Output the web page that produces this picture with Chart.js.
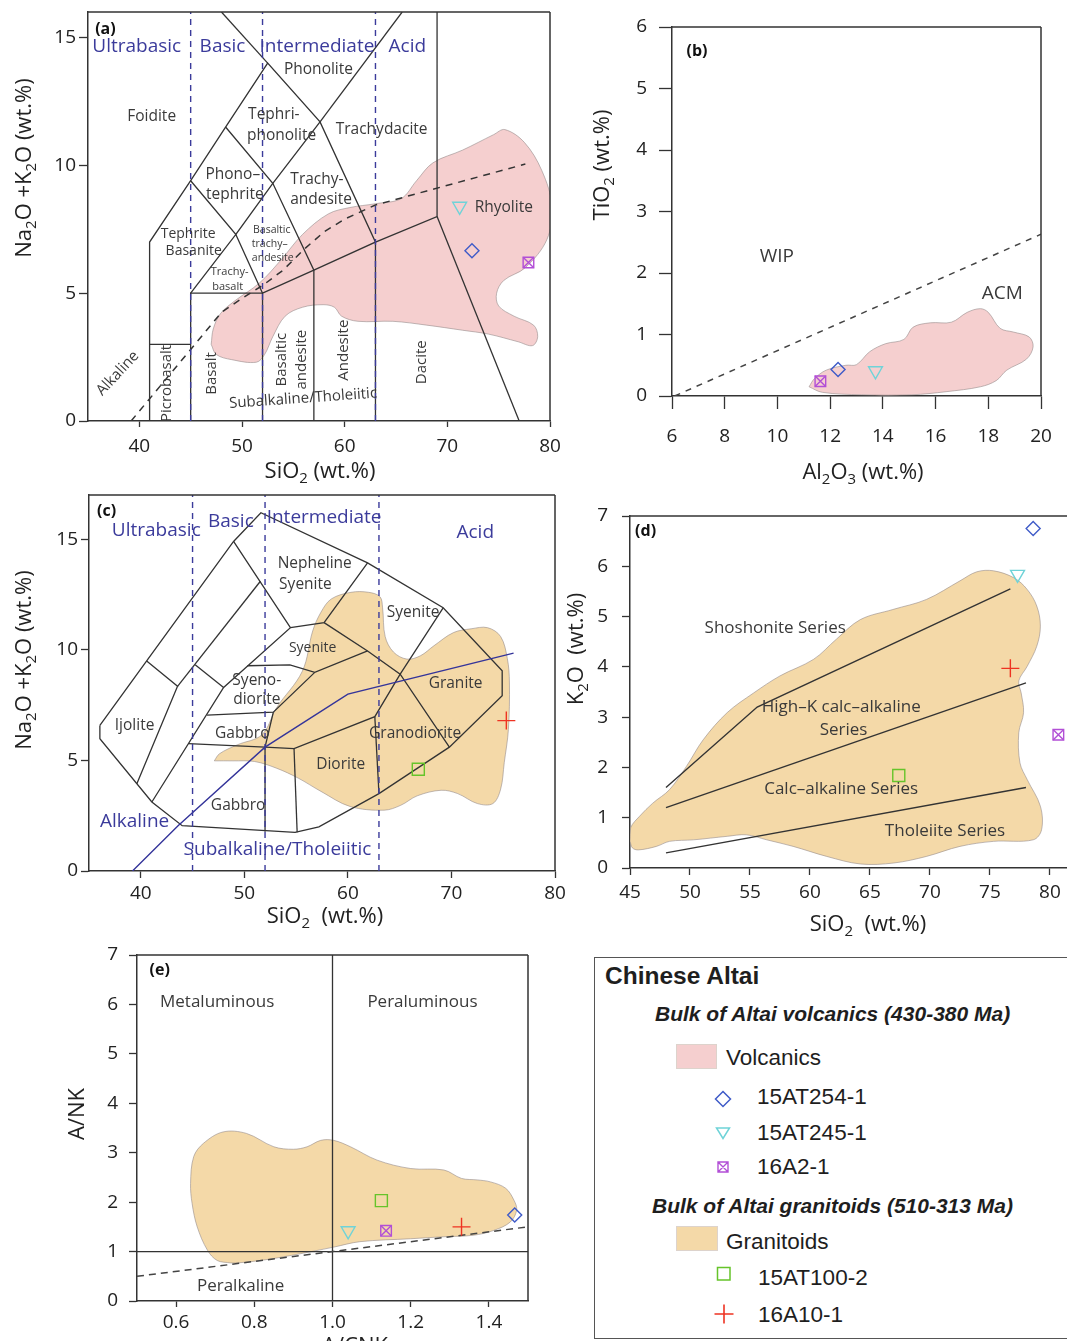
<!DOCTYPE html>
<html>
<head>
<meta charset="utf-8">
<title>Chinese Altai - geochemical diagrams</title>
<script src="https://cdn.jsdelivr.net/npm/chart.js@4.4.1/dist/chart.umd.min.js"></script>
<style>
  html, body { margin: 0; padding: 0; background: #fff; }
  body { position: relative; width: 1067px; height: 1341px; overflow: hidden; }
  canvas { position: absolute; }
  #legend { position: absolute; left: 594px; top: 957px; width: 490px; height: 382px; border: 1.5px solid #555; box-sizing: border-box; font-family: 'Liberation Sans', Arial, sans-serif; color: #1e1e1e; }
  #legend .t { position: absolute; white-space: nowrap; line-height: 1; transform: translateY(-50%); }
  #legend .h { font-weight: bold; font-style: italic; font-size: 21px; }
  #legend .e { font-size: 22.5px; }
  #legend .sw { position: absolute; width: 41px; height: 25px; border: 1px solid #ddd3cc; box-sizing: border-box; }
  #legend svg { position: absolute; }
</style>
</head>
<body>
<canvas id="chartA"></canvas>
<canvas id="chartB"></canvas>
<canvas id="chartC"></canvas>
<canvas id="chartD"></canvas>
<canvas id="chartE"></canvas>

<div id="legend">
  <div class="t" style="left:10px;top:18px;font-weight:bold;font-size:24.5px">Chinese Altai</div>
  <div class="t h" style="left:60px;top:55px">Bulk of Altai volcanics (430-380 Ma)</div>
  <div class="sw" style="left:81px;top:86px;background:#f5cfcf"></div>
  <div class="t e" style="left:131px;top:100px">Volcanics</div>
  <svg style="left:118px;top:131px" width="20" height="20"><path d="M10 2.5 L17.5 10 L10 17.5 L2.5 10Z" fill="none" stroke="#3f5bc8" stroke-width="1.5"/></svg>
  <div class="t e" style="left:162px;top:139px">15AT254-1</div>
  <svg style="left:118px;top:165px" width="20" height="20"><path d="M3.5 5 L16.5 5 L10 15.5Z" fill="none" stroke="#6fd3d8" stroke-width="1.5"/></svg>
  <div class="t e" style="left:162px;top:175px">15AT245-1</div>
  <svg style="left:118px;top:199px" width="20" height="20"><path d="M5 5 H15 V15 H5Z M5 5 L15 15 M15 5 L5 15" fill="none" stroke="#b24fd6" stroke-width="1.4"/></svg>
  <div class="t e" style="left:162px;top:209px">16A2-1</div>
  <div class="t h" style="left:57px;top:247px">Bulk of Altai granitoids (510-313 Ma)</div>
  <div class="sw" style="left:81px;top:268px;width:42px;background:#f4d9a8"></div>
  <div class="t e" style="left:131px;top:284px">Granitoids</div>
  <svg style="left:119px;top:306px" width="20" height="20"><path d="M3.5 3.5 H16 V16 H3.5Z" fill="none" stroke="#66c42a" stroke-width="1.5"/></svg>
  <div class="t e" style="left:163px;top:320px">15AT100-2</div>
  <svg style="left:118px;top:345px" width="22" height="22"><path d="M1.5 11 H20.5 M11 1.5 V20.5" fill="none" stroke="#ee3322" stroke-width="1.6"/></svg>
  <div class="t e" style="left:163px;top:357px">16A10-1</div>
</div>

<script>
// Polices et couleurs
const FONT = "'Open Sans', 'Noto Sans', sans-serif";
const INK = '#333333';
const BLUE = '#3b3b9b';
const PINK = '#f5cfcf';
const TAN = '#f4d9a8';

// ---------- Données ----------
// Échantillons
const volcNames = ['15AT254-1', '15AT245-1', '16A2-1'];
const graniteNames = ['15AT100-2', '16A10-1'];
const allNames = volcNames.concat(graniteNames);

// (a) TAS volcaniques
const aSiO2 = [72.4, 71.2, 77.9];
const aAlk = [6.66, 8.4, 6.2];
// (b) TiO2 - Al2O3
const bAl2O3 = [12.3, 13.72, 11.63];
const bTiO2 = [0.43, 0.41, 0.24];
// (c) TAS plutonique
const cSiO2 = [66.8, 75.3];
const cAlk = [4.6, 6.8];
// (d) K2O - SiO2
const dSiO2 = [78.6, 77.3, 80.7, 67.4, 76.7];
const dK2O = [6.75, 5.84, 2.65, 1.84, 3.97];
// (e) A/NK - A/CNK
const eACNK = [1.466, 1.04, 1.137, 1.125, 1.33];
const eANK = [1.74, 1.42, 1.42, 2.03, 1.5];

// Graduations
const tasTicksX = [40, 50, 60, 70, 80];
const tasTicksY = [0, 5, 10, 15];
const bTicksX = [6, 8, 10, 12, 14, 16, 18, 20];
const bTicksY = [0, 1, 2, 3, 4, 5, 6];
const dTicksX = [45, 50, 55, 60, 65, 70, 75, 80];
const dTicksY = [0, 1, 2, 3, 4, 5, 6, 7];
const eTicksX = [0.6, 0.8, 1.0, 1.2, 1.4];
const eTicksY = [0, 1, 2, 3, 4, 5, 6, 7];

// Champs (enveloppes)
const volcFieldA = [[47.0,3.0],[47.2,3.6],[47.9,4.2],[49.3,4.7],[51.7,5.4],[53.8,6.3],[55.9,7.3],[58.4,8.1],[60.5,8.35],[63.0,8.5],[65.5,8.7],[67.0,9.4],[68.6,10.1],[71.5,10.6],[74.5,11.2],[75.6,11.4],[77.5,10.9],[79.2,9.8],[80.2,8.4],[79.7,7.1],[77.6,6.0],[75.5,5.5],[74.8,5.0],[75.0,4.5],[76.5,4.1],[78.4,3.75],[78.8,3.3],[78.3,2.95],[76.9,3.1],[74.0,3.4],[71.5,3.55],[68.0,3.75],[64.7,3.9],[61.3,3.9],[59.7,4.1],[59.0,4.45],[57.9,4.55],[55.9,4.45],[54.2,4.1],[53.0,3.3],[52.2,2.6],[51.4,2.3],[49.0,2.4],[47.5,2.6],[47.0,3.0]];
const volcFieldB = [[11.2,0.15],[11.4,0.28],[11.85,0.42],[12.6,0.5],[13.0,0.51],[13.5,0.72],[14.1,0.85],[14.8,0.92],[15.15,1.12],[15.8,1.19],[16.6,1.2],[17.2,1.36],[17.7,1.42],[18.0,1.36],[18.45,1.1],[18.95,1.04],[19.55,0.96],[19.7,0.8],[19.45,0.6],[18.7,0.42],[18.3,0.25],[17.7,0.15],[16.4,0.07],[15.1,0.02],[13.2,0.02],[11.7,0.06],[11.2,0.15]];
const graniteFieldC = [[47.1,4.98],[47.6,5.3],[49.3,5.7],[51.7,6.16],[53.1,7.37],[55.6,9.03],[56.6,10.85],[57.4,11.7],[58.4,12.3],[60.3,12.6],[62.0,12.6],[63.1,12.4],[63.35,11.9],[63.6,10.6],[64.4,9.9],[65.7,9.58],[67.0,9.73],[68.3,10.18],[70.2,10.78],[71.9,10.95],[73.5,11.0],[74.75,10.6],[75.4,9.6],[75.6,8.5],[75.5,6.4],[75.1,4.9],[74.75,3.7],[74.0,3.05],[72.5,3.05],[70.6,3.5],[69.0,3.65],[66.7,3.4],[65.1,2.97],[63.5,2.75],[60.2,2.92],[57.4,3.6],[55.2,4.2],[53.1,4.65],[51.0,4.95],[48.9,4.98],[47.1,4.98]];
const graniteFieldD = [[45.0,0.53],[45.05,0.8],[45.8,1.03],[46.9,1.29],[48.3,1.56],[49.7,2.02],[51.1,2.55],[53.1,3.09],[55.3,3.48],[57.5,3.82],[60.3,4.15],[62.2,4.55],[64.2,4.94],[66.9,5.14],[69.7,5.34],[72.5,5.71],[73.9,5.89],[75.3,5.91],[77.0,5.77],[78.1,5.54],[78.9,5.21],[79.2,4.81],[78.9,4.41],[78.1,4.01],[77.4,3.72],[77.6,3.48],[77.8,3.09],[77.4,2.69],[77.5,2.09],[78.1,1.76],[79.2,1.23],[79.3,0.76],[78.6,0.56],[75.3,0.53],[72.5,0.43],[69.7,0.23],[67.0,0.1],[64.2,0.08],[61.4,0.23],[58.6,0.43],[56.4,0.56],[54.7,0.66],[53.1,0.63],[50.3,0.56],[48.3,0.53],[47.2,0.43],[45.7,0.36],[45.2,0.40],[45.0,0.53]];
const graniteFieldE = [[0.74,0.77],[0.705,0.82],[0.68,1.03],[0.654,1.5],[0.641,1.97],[0.637,2.38],[0.645,2.92],[0.67,3.19],[0.72,3.42],[0.78,3.39],[0.85,3.12],[0.90,3.07],[0.935,3.12],[0.97,3.25],[1.003,3.25],[1.046,3.12],[1.114,2.85],[1.2,2.68],[1.285,2.65],[1.33,2.48],[1.37,2.45],[1.404,2.41],[1.443,2.28],[1.464,2.04],[1.471,1.84],[1.455,1.6],[1.413,1.43],[1.36,1.33],[1.285,1.30],[1.2,1.26],[1.07,1.2],[1.003,1.09],[0.9,0.93],[0.816,0.82],[0.756,0.77],[0.74,0.77]];

// Limites de classification
const tasLinesA = [
  [[41,0],[41,7],[45,9.4],[48.4,11.5],[52.5,14],[57.6,11.7],[63,7],[69,8],[69,16]],
  [[48,16],[52.5,14]],
  [[57.6,11.7],[65.6,16]],
  [[41,3],[45,3]],
  [[45,0],[45,5],[52,5],[52,0]],
  [[45,9.4],[49.4,7.3],[53,9.3],[57.6,11.7]],
  [[48.4,11.5],[53,9.3],[57,5.9],[57,0]],
  [[45,5],[49.4,7.3],[52,5]],
  [[52,5],[57,5.9],[63,7],[63,0]],
  [[69,8],[77,0]]
];
const silicaDivA = [[[45,0],[45,16]], [[52,0],[52,16]], [[63,0],[63,16]]];
const alkalineLineA = [[39.2,0],[45,2.8],[48,4.25],[50,4.8],[52,5.3],[54,5.9],[56,6.7],[58,7.4],[60,7.9],[63,8.45],[68,9.0],[77.6,10.05]];

const wipAcmLine = [[6.1,0],[20,2.63]];

const plutOutlineC = [[36.05,6.58],[40.57,9.5],[48.96,14.9],[51.6,16.2],[61.9,13.93],[69.2,11.9],[74.9,9.05],[74.9,7.93],[69.8,5.6],[63.0,3.5],[57.2,2.0],[54.9,1.75],[44.0,2.05],[41.07,3.12],[36.05,5.98],[36.05,6.58]];
const plutLinesC = [
  [[40.57,9.5],[43.55,8.35],[39.62,3.95]],
  [[43.55,8.35],[51.55,13.1]],
  [[45.25,9.33],[48.0,8.3]],
  [[41.07,3.12],[48.0,8.3],[54.45,11.0],[48.96,14.9]],
  [[54.45,11.0],[57.7,11.23],[61.9,13.93]],
  [[57.7,11.23],[61.9,9.95],[65.05,8.9],[69.8,5.6]],
  [[50.3,9.28],[54.4,9.32],[56.8,8.98],[61.9,9.95]],
  [[46.4,7.05],[52.8,7.18],[56.8,8.98]],
  [[44.6,5.76],[52.0,5.6],[54.8,5.53],[62.6,6.98],[65.05,8.9],[69.2,11.9]],
  [[52.8,7.18],[52.0,5.6],[52.0,1.78]],
  [[54.8,5.53],[55.1,1.75]],
  [[62.6,6.98],[63.0,3.5]]
];
const silicaDivC = [[[45,0],[45,17]], [[52,0],[52,17]], [[63,0],[63,17]]];
const alkalineLineC = [[39.2,0],[43.6,2.05],[52.0,5.6],[60.0,8.0],[76.0,9.85]];

const seriesLinesD = [
  [[48,1.6],[55.6,3.2],[76.7,5.55]],
  [[48,1.2],[78,3.68]],
  [[48,0.3],[78,1.6]]
];

const shandLinesE = [[[1,0],[1,7]], [[0.5,1],[1.5,1]]];
const shandDashE = [[0.5,0.5],[1.5,1.5]];

// Symboles des échantillons
const markers = {
  '15AT254-1': { style: ['rectRot'], r: 7, color: '#3f5bc8' },
  '15AT245-1': { style: ['triangle'], r: 8, rot: 180, color: '#6fd3d8' },
  '16A2-1':    { style: ['rect', 'crossRot'], r: 7.5, color: '#b24fd6' },
  '15AT100-2': { style: ['rect'], r: 8.5, color: '#66c42a' },
  '16A10-1':   { style: ['cross'], r: 9, color: '#ee3322' }
};

// ---------- Outils ----------
const pairs = arr => arr.map(([x, y]) => ({ x, y }));

function lineSets(polys, extra) {
  return polys.map(p => Object.assign({
    data: pairs(p), showLine: true, pointRadius: 0, fill: false, tension: 0,
    borderColor: INK, borderWidth: 1.3, order: 2
  }, extra));
}

function fieldSet(poly, color) {
  return {
    data: pairs(poly), showLine: true, fill: 'shape', tension: 0.35,
    backgroundColor: color, borderColor: 'rgba(150,140,140,0.75)', borderWidth: 0.8,
    pointRadius: 0, order: 3
  };
}

function sampleSets(names, xs, ys) {
  const out = [];
  names.forEach((n, i) => {
    const m = markers[n];
    m.style.forEach(st => out.push({
      data: [{ x: xs[i], y: ys[i] }], pointStyle: st, pointRadius: m.r, pointRotation: m.rot || 0,
      pointBorderColor: m.color, pointBackgroundColor: 'rgba(0,0,0,0)', pointBorderWidth: 1.4,
      clip: false, order: 0
    }));
  });
  return out;
}

const L = (x, y, text, size, o) => Object.assign({ x, y, text, size }, o || {});

// texte avec indices : "SiO{2}"
function drawRich(ctx, text, x, y, t) {
  const size = t.size || 15;
  const weight = t.bold ? 'bold' : 'normal';
  const parts = text.split(/(\{[^}]*\})/).filter(Boolean)
    .map(p => p[0] === '{' ? { s: p.slice(1, -1), sub: true } : { s: p, sub: false });
  const fnt = sub => `${weight} ${sub ? size * 0.68 : size}px ${FONT}`;
  let w = 0;
  parts.forEach(p => { ctx.font = fnt(p.sub); p.w = ctx.measureText(p.s).width; w += p.w; });
  ctx.save();
  ctx.translate(x, y);
  ctx.rotate((t.rot || 0) * Math.PI / 180);
  ctx.fillStyle = t.color || '#3a3a3a';
  ctx.textBaseline = 'middle';
  ctx.textAlign = 'left';
  let cx = -w / 2;
  parts.forEach(p => { ctx.font = fnt(p.sub); ctx.fillText(p.s, cx, p.sub ? size * 0.32 : 0); cx += p.w; });
  ctx.restore();
}

const panelText = {
  id: 'panelText',
  afterDatasetsDraw(chart, args, opts) {
    const { ctx, chartArea: ca } = chart;
    const xs = chart.scales.x, ys = chart.scales.y;
    ctx.save();
    ctx.strokeStyle = INK;
    ctx.lineWidth = 1.5;
    ctx.beginPath();
    ctx.moveTo(ca.left, ca.top); ctx.lineTo(ca.right, ca.top);
    if (opts.frame === 'box') { ctx.moveTo(ca.right, ca.top); ctx.lineTo(ca.right, ca.bottom); }
    ctx.stroke();
    (opts.labels || []).forEach(t => drawRich(ctx, t.text, xs.getPixelForValue(t.x), ys.getPixelForValue(t.y), t));
    (opts.titles || []).forEach(t => drawRich(ctx, t.text, t.x - opts.origin[0], t.y - opts.origin[1],
      { size: 22, rot: t.rot || 0, color: '#222' }));
    ctx.restore();
  }
};

// box = position du canvas, area = zone de tracé voulue (px de la page)
function panel(id, box, area, ax, ay, datasets, labels, titles, frame) {
  const cv = document.getElementById(id);
  cv.width = box.w; cv.height = box.h;
  cv.style.left = box.x + 'px';
  cv.style.top = box.y + 'px';
  const axis = (a, horiz) => ({
    type: 'linear', min: a.min, max: a.max,
    afterBuildTicks: s => { s.ticks = a.ticks.map(v => ({ value: v })); },
    afterFit: s => {
      if (horiz) s.height = box.y + box.h - area.bottom;
      else s.width = area.left - box.x;
      s.paddingLeft = s.paddingRight = s.paddingTop = s.paddingBottom = 0;
    },
    grid: { drawOnChartArea: false, drawTicks: true, tickLength: a.tick, tickColor: INK, tickWidth: 1.3 },
    border: { display: true, color: INK, width: 1.5 },
    ticks: {
      padding: a.pad, autoSkip: false, maxRotation: 0, minRotation: 0, color: '#222',
      font: { family: FONT, size: 19 },
      callback: a.fmt || (v => String(v))
    }
  });
  return new Chart(cv, {
    type: 'scatter',
    data: { datasets },
    options: {
      responsive: false, animation: false, events: [], devicePixelRatio: 1,
      layout: { autoPadding: false, padding: { left: 0, top: area.top - box.y, right: box.x + box.w - area.right, bottom: 0 } },
      plugins: {
        legend: { display: false }, tooltip: { enabled: false },
        panelText: { labels, titles, frame, origin: [box.x, box.y] }
      },
      scales: { x: axis(ax, true), y: axis(ay, false) }
    },
    plugins: [panelText]
  });
}

// ---------- (a) TAS volcaniques ----------
panel('chartA', { x: 0, y: 0, w: 570, h: 490 }, { left: 88, top: 12, right: 550, bottom: 421 },
  { min: 35, max: 80, ticks: tasTicksX, tick: 6, pad: 8 },
  { min: 0, max: 16, ticks: tasTicksY, tick: 9, pad: 3 },
  [].concat(
    sampleSets(volcNames, aSiO2, aAlk),
    lineSets(silicaDivA, { borderColor: BLUE, borderDash: [6, 5], borderWidth: 1.4, order: 1 }),
    lineSets([alkalineLineA], { borderDash: [7, 6], borderWidth: 1.5, order: 1 }),
    lineSets(tasLinesA),
    [fieldSet(volcFieldA, PINK)]
  ),
  [
    L(36.7, 15.3, '(a)', 16, { bold: true, color: '#111' }),
    L(39.75, 14.65, 'Ultrabasic', 19, { color: BLUE }),
    L(48.1, 14.65, 'Basic', 19, { color: BLUE }),
    L(57.3, 14.65, 'Intermediate', 19, { color: BLUE }),
    L(66.1, 14.65, 'Acid', 19, { color: BLUE }),
    L(57.45, 13.74, 'Phonolite', 15.5),
    L(41.2, 11.9, 'Foidite', 15.5),
    L(53.1, 12.0, 'Tephri-', 15.5), L(53.85, 11.17, 'phonolite', 15.5),
    L(63.6, 11.4, 'Trachydacite', 15.5),
    L(49.1, 9.65, 'Phono–', 15.5), L(49.3, 8.87, 'tephrite', 15.5),
    L(57.3, 9.45, 'Trachy-', 15.5), L(57.7, 8.65, 'andesite', 15.5),
    L(75.5, 8.35, 'Rhyolite', 15.5),
    L(44.75, 7.3, 'Tephrite', 14), L(45.3, 6.64, 'Basanite', 14),
    L(52.9, 7.47, 'Basaltic', 10.5), L(52.7, 6.92, 'trachy–', 10.5), L(53.0, 6.38, 'andesite', 10.5),
    L(48.8, 5.82, 'Trachy-', 11), L(48.6, 5.26, 'basalt', 11),
    L(37.9, 1.86, 'Alkaline', 15, { rot: -47 }),
    L(42.7, 1.47, 'Picrobasalt', 15, { rot: -90 }),
    L(47.1, 1.86, 'Basalt', 15, { rot: -90 }),
    L(53.85, 2.4, 'Basaltic', 15, { rot: -90 }), L(55.8, 2.4, 'andesite', 15, { rot: -90 }),
    L(59.9, 2.77, 'Andesite', 15, { rot: -90 }),
    L(67.5, 2.3, 'Dacite', 15, { rot: -90 }),
    L(55.95, 0.88, 'Subalkaline/Tholeiitic', 15, { rot: -4 })
  ],
  [{ text: 'Na{2}O +K{2}O (wt.%)', x: 25, y: 168, rot: -90 }, { text: 'SiO{2} (wt.%)', x: 320, y: 472 }],
  'box');

// ---------- (b) TiO2 vs Al2O3 ----------
panel('chartB', { x: 575, y: 0, w: 492, h: 490 }, { left: 672, top: 27, right: 1041, bottom: 396 },
  { min: 6, max: 20, ticks: bTicksX, tick: 13, pad: 16 },
  { min: 0, max: 6, ticks: bTicksY, tick: 13, pad: 12 },
  [].concat(
    sampleSets(volcNames, bAl2O3, bTiO2),
    lineSets([wipAcmLine], { borderColor: '#444', borderDash: [6, 6], borderWidth: 1.5, order: 1 }),
    [fieldSet(volcFieldB, PINK)]
  ),
  [
    L(6.95, 5.6, '(b)', 16, { bold: true, color: '#111' }),
    L(9.98, 2.26, 'WIP', 19),
    L(18.53, 1.66, 'ACM', 19)
  ],
  [{ text: 'TiO{2} (wt.%)', x: 603, y: 165, rot: -90 }, { text: 'Al{2}O{3} (wt.%)', x: 863, y: 473 }],
  'box');

// ---------- (c) TAS plutonique ----------
panel('chartC', { x: 0, y: 490, w: 570, h: 450 }, { left: 89, top: 495, right: 555, bottom: 871 },
  { min: 35, max: 80, ticks: tasTicksX, tick: 7, pad: 4 },
  { min: 0, max: 17, ticks: tasTicksY, tick: 8, pad: 3 },
  [].concat(
    sampleSets(graniteNames, cSiO2, cAlk),
    lineSets(silicaDivC, { borderColor: BLUE, borderDash: [6, 5], borderWidth: 1.4, order: 1 }),
    lineSets([alkalineLineC], { borderColor: '#34349a', borderWidth: 1.4, order: 1 }),
    lineSets([plutOutlineC].concat(plutLinesC)),
    [fieldSet(graniteFieldC, TAN)]
  ),
  [
    L(36.7, 16.26, '(c)', 16, { bold: true, color: '#111' }),
    L(41.5, 15.4, 'Ultrabasic', 19, { color: BLUE }),
    L(48.7, 15.8, 'Basic', 19, { color: BLUE }),
    L(57.7, 15.96, 'Intermediate', 19, { color: BLUE }),
    L(72.3, 15.3, 'Acid', 19, { color: BLUE }),
    L(56.8, 13.9, 'Nepheline', 15.5), L(55.9, 12.96, 'Syenite', 15.5),
    L(66.3, 11.68, 'Syenite', 15.5),
    L(56.6, 10.06, 'Syenite', 14),
    L(51.2, 8.63, 'Syeno-', 15.5), L(51.2, 7.73, 'diorite', 15.5),
    L(70.4, 8.48, 'Granite', 15.5),
    L(39.4, 6.58, 'Ijolite', 15.5),
    L(49.8, 6.2, 'Gabbro', 15.5),
    L(66.5, 6.23, 'Granodiorite', 15.5),
    L(59.3, 4.82, 'Diorite', 15.5),
    L(49.4, 2.97, 'Gabbro', 15.5),
    L(39.4, 2.22, 'Alkaline', 19, { color: BLUE }),
    L(53.2, 0.95, 'Subalkaline/Tholeiitic', 19, { color: BLUE })
  ],
  [{ text: 'Na{2}O +K{2}O (wt.%)', x: 25, y: 660, rot: -90 }, { text: 'SiO{2}  (wt.%)', x: 325, y: 917 }],
  'box');

// ---------- (d) K2O vs SiO2 ----------
panel('chartD', { x: 560, y: 490, w: 507, h: 450 }, { left: 630, top: 516, right: 1067, bottom: 868 },
  { min: 45, max: 81.42, ticks: dTicksX, tick: 7, pad: 6 },
  { min: 0, max: 7, ticks: dTicksY, tick: 8, pad: 14 },
  [].concat(
    sampleSets(allNames, dSiO2, dK2O),
    lineSets(seriesLinesD, { borderWidth: 1.4 }),
    [fieldSet(graniteFieldD, TAN)]
  ),
  [
    L(46.3, 6.7, '(d)', 16, { bold: true, color: '#111' }),
    L(57.1, 4.76, 'Shoshonite Series', 17),
    L(62.6, 3.2, 'High–K calc–alkaline', 17), L(62.8, 2.75, 'Series', 17),
    L(62.6, 1.57, 'Calc–alkaline Series', 17),
    L(71.25, 0.74, 'Tholeiite Series', 17)
  ],
  [{ text: 'K{2}O  (wt.%)', x: 577, y: 649, rot: -90 }, { text: 'SiO{2}  (wt.%)', x: 868, y: 925 }],
  'top');

// ---------- (e) A/NK vs A/CNK ----------
panel('chartE', { x: 0, y: 940, w: 560, h: 401 }, { left: 137, top: 955, right: 528, bottom: 1301 },
  { min: 0.5, max: 1.5, ticks: eTicksX, tick: 6, pad: 4, fmt: v => Number(v).toFixed(1) },
  { min: 0, max: 7, ticks: eTicksY, tick: 8, pad: 11 },
  [].concat(
    sampleSets(allNames, eACNK, eANK),
    lineSets([shandDashE], { borderColor: '#444', borderDash: [7, 5], borderWidth: 1.5, order: 1 }),
    lineSets(shandLinesE),
    [fieldSet(graniteFieldE, TAN)]
  ),
  [
    L(0.558, 6.69, '(e)', 16, { bold: true, color: '#111' }),
    L(0.705, 6.04, 'Metaluminous', 17),
    L(1.23, 6.04, 'Peraluminous', 17),
    L(0.765, 0.30, 'Peralkaline', 17)
  ],
  [{ text: 'A/NK', x: 78, y: 1114, rot: -90 }, { text: 'A/CNK', x: 355, y: 1347 }],
  'box');
</script>
</body>
</html>
